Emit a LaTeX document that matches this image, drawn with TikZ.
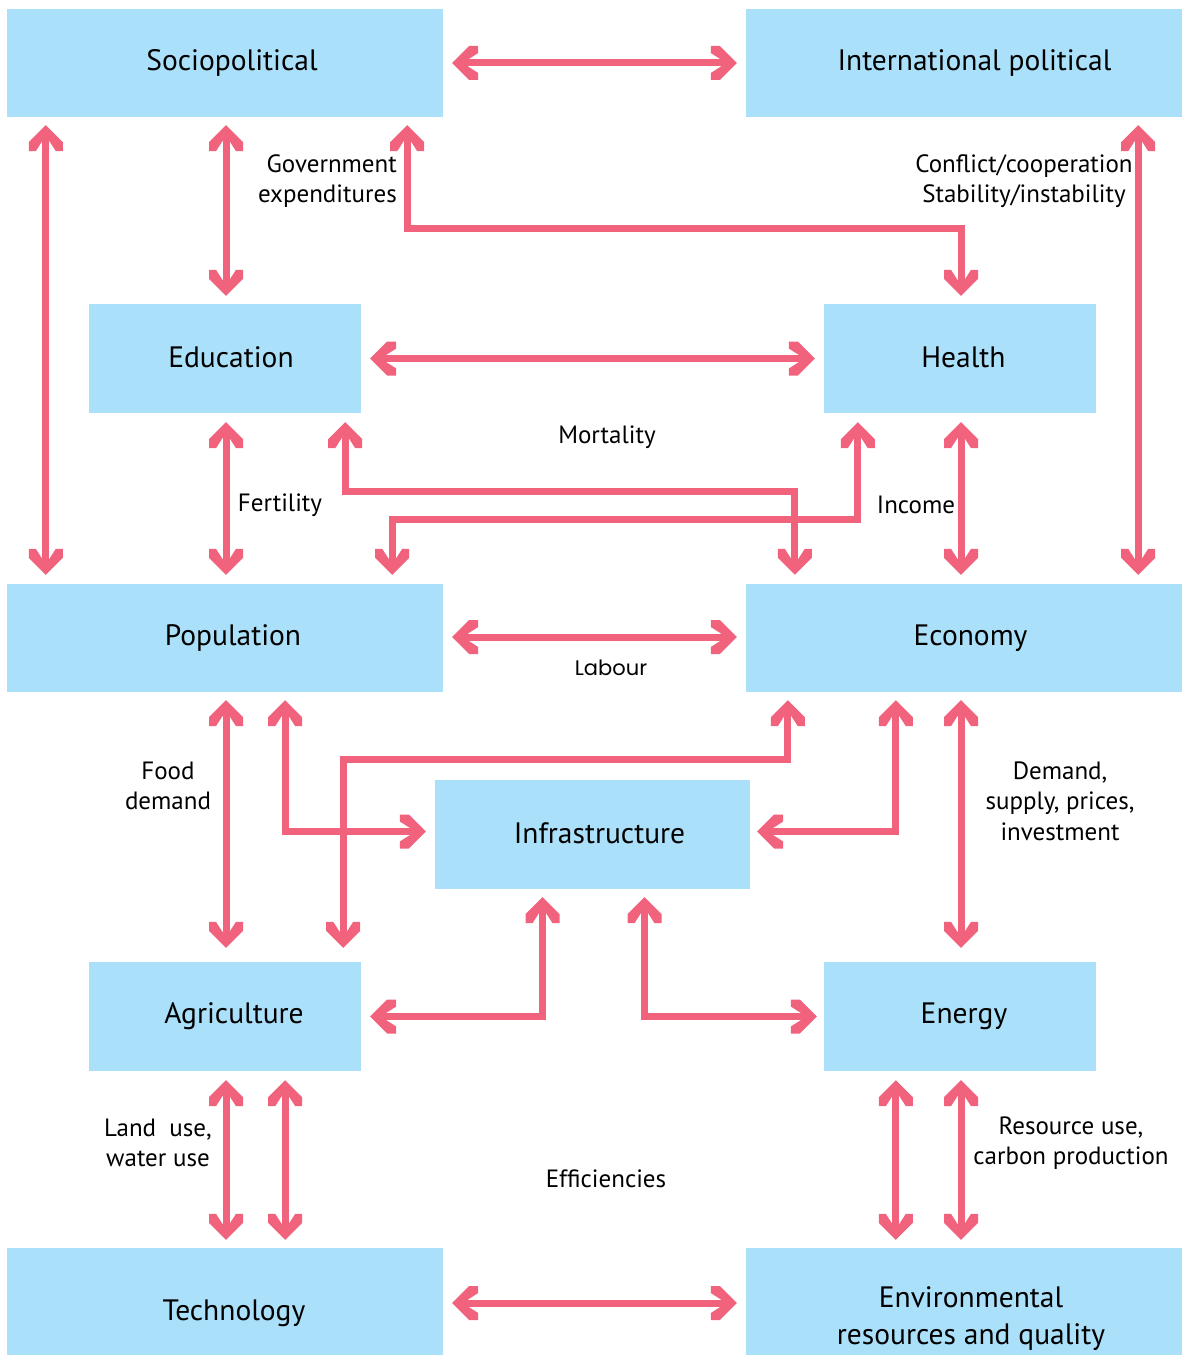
\documentclass[tikz,border=0pt]{standalone}
\usepackage{fontspec}
\setmainfont{PT Sans}
\newfontfamily\labfont{Poppins}
\usetikzlibrary{arrows.meta,calc}
\definecolor{boxblue}{RGB}{171,224,250}
\definecolor{arrowpink}{RGB}{241,98,125}
\pgfdeclarearrow{
  name = Chev,
  setup code = {
    \pgfarrowssettipend{0pt}
    \pgfarrowssetlineend{-12pt}
    \pgfarrowssetbackend{-26pt}
    \pgfarrowshullpoint{0pt}{0pt}
    \pgfarrowsupperhullpoint{-26pt}{17pt}
  },
  drawing code = {
    \pgfsetfillcolor{arrowpink}
    \pgfpathmoveto{\pgfpointorigin}
    \pgfpathlineto{\pgfpoint{-17pt}{17pt}}
    \pgfpathlineto{\pgfpoint{-26pt}{17pt}}
    \pgfpathlineto{\pgfpoint{-26pt}{10pt}}
    \pgfpathlineto{\pgfpoint{-16pt}{3.6pt}}
    \pgfpathlineto{\pgfpoint{-16pt}{-3.6pt}}
    \pgfpathlineto{\pgfpoint{-26pt}{-10pt}}
    \pgfpathlineto{\pgfpoint{-26pt}{-17pt}}
    \pgfpathlineto{\pgfpoint{-17pt}{-17pt}}
    \pgfpathclose
    \pgfusepathqfill
  }
}
\begin{document}
\begin{tikzpicture}[x=1pt,y=-1pt,
  boxfont/.style={font=\fontsize{29.5}{37}\selectfont},
  tshift/.style={execute at begin node={\hspace*{#1}}},
  bigbox/.style={fill=boxblue,draw=none,minimum width=436pt,minimum height=108pt,inner sep=0pt,boxfont},
  midbox/.style={fill=boxblue,draw=none,minimum width=272pt,minimum height=109pt,inner sep=0pt,boxfont},
  plainbox/.style={fill=boxblue,draw=none,minimum width=436pt,minimum height=107pt,inner sep=0pt},
  con/.style={draw=arrowpink,line width=7pt,line join=miter,Chev-Chev},
  lbl/.style={font=\fontsize{25}{30.5}\selectfont,align=center,inner sep=0pt}]
\useasboundingbox (0,0) rectangle (1185,1356);
% boxes
\node[bigbox,tshift=14pt] (soc) at (225,63) {\raisebox{2pt}{Sociopolitical}};
\node[bigbox,tshift=21pt] (intl) at (964,63) {\raisebox{2pt}{International political}};
\node[midbox,tshift=12pt] (edu) at (225,358.5) {\raisebox{2pt}{Education}};
\node[midbox,tshift=7pt] (hea) at (960,358.5) {\raisebox{2pt}{Health}};
\node[bigbox,tshift=16pt] (pop) at (225,638) {Population};
\node[bigbox,tshift=13pt] (eco) at (964,638) {Economy};
\node[midbox,minimum width=315pt,tshift=14pt] (inf) at (592.5,834.5) {\raisebox{2pt}{Infrastructure}};
\node[midbox,tshift=18pt] (agr) at (225,1016.5) {\raisebox{1pt}{Agriculture}};
\node[midbox,tshift=8pt] (ene) at (960,1016.5) {\raisebox{1pt}{Energy}};
\node[plainbox] (tec) at (225,1301.5) {};
\node[plainbox] (env) at (964,1301.5) {};
\node[boxfont,inner sep=0pt] (tect) at ($(tec.center)+(9,12)$) {Technology};
\node[boxfont,inner sep=0pt,align=center] (envt) at ($(env.center)+(7,17)$) {Environmental\\resources and quality};
% connectors
\draw[con] ($(soc.east)+(9,0)$) -- ($(intl.west)+(-9,0)$);
\draw[con] ($(soc.south west)+(39,8)$) -- ($(pop.north west)+(39,-9)$);
\draw[con] ($(soc.south)+(1,8)$) -- ($(edu.north)+(1,-8)$);
\draw[con] ($(soc.south east)+(-36,8)$) -- ++(0,103) -| ($(hea.north)+(1,-8)$);
\draw[con] ($(intl.south east)+(-44,8)$) -- ($(eco.north east)+(-44,-9)$);
\draw[con] ($(edu.east)+(9,0)$) -- ($(hea.west)+(-9,0)$);
\draw[con] ($(edu.south)+(1,9)$) -- ($(pop.north)+(1,-9)$);
\draw[con] ($(edu.south east)+(-16,9)$) -- ++(0,69) -| ($(eco.north west)+(49,-9)$);
\draw[con] ($(hea.south west)+(34,9)$) -- ++(0,97) -| ($(pop.north east)+(-51,-9)$);
\draw[con] ($(hea.south)+(1,9)$) -- ($(hea.south |- eco.north)+(1,-9)$);
\draw[con] ($(pop.east)+(9,-1)$) -- ($(eco.west)+(-9,-1)$);
\draw[con] ($(pop.south)+(1,8)$) -- ($(agr.north)+(1,-14)$);
\draw[con] ($(pop.south east)+(-158,8)$) |- ($(inf.west)+(-9,-3)$);
\draw[con] ($(eco.south west)+(42,8)$) -- ++(0,59) -| ($(agr.north east)+(-18,-14)$);
\draw[con] ($(eco.south west)+(150,8)$) |- ($(inf.east)+(7,-3)$);
\draw[con] ($(ene.north |- eco.south)+(1,8)$) -- ($(ene.north)+(1,-14)$);
\draw[con] ($(agr.east)+(9,0)$) -| ($(inf.south)+(-50,8)$);
\draw[con] ($(inf.south)+(52,8)$) |- ($(ene.west)+(-7,0)$);
\draw[con] ($(agr.south)+(1,9)$) -- ($(tec.north)+(1,-8)$);
\draw[con] ($(agr.south east)+(-76,9)$) -- ($(agr.south east |- tec.north)+(-76,-8)$);
\draw[con] ($(ene.south west)+(72,9)$) -- ($(ene.south west |- env.north)+(72,-8)$);
\draw[con] ($(ene.south)+(1,9)$) -- ($(ene.south |- env.north)+(1,-8)$);
\draw[con] ($(tec.east)+(9,1.5)$) -- ($(env.west)+(-9,1.5)$);
% labels
\node[lbl,anchor=east,align=right] (lgov) at (397,181) {Government\\expenditures};
\node[lbl] (lconf) at (1024,181) {Conflict/cooperation\\Stability/instability};
\node[lbl] (lmort) at (607,437) {Mortality};
\node[lbl] (lfert) at (280,505) {Fertility};
\node[lbl] (linc) at (916,505) {Income};
\node[inner sep=0pt,font=\labfont\fontsize{21}{25}\selectfont] (llab) at (611,668) {Labour};
\node[lbl] (lfood) at (168,786) {Food\\demand};
\node[lbl] (ldem) at (1060,801) {Demand,\\supply, prices,\\investment};
\node[lbl] (lland) at (158,1143) {Land~ use,\\water use};
\node[lbl] (leff) at (606,1179) {Efficiencies};
\node[lbl] (lres) at (1071,1143) {Resource use,\\carbon production};
\end{tikzpicture}
\end{document}
